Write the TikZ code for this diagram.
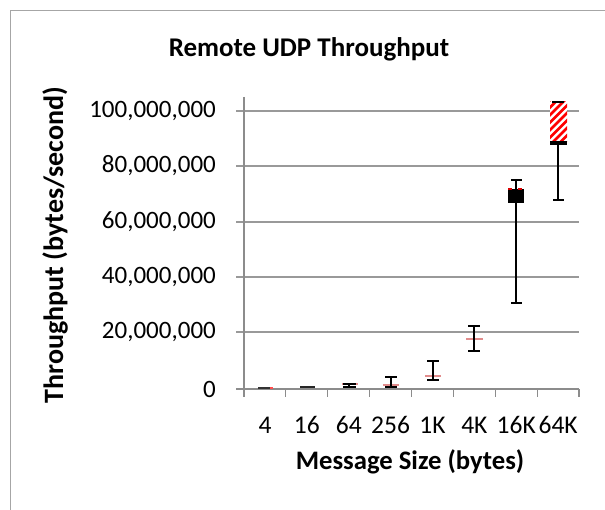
\documentclass[tikz,border=0pt]{standalone}
\usepackage{fontspec}
\setmainfont{Carlito}
\begin{document}
\begin{tikzpicture}[x=1pt,y=-1pt,
  frameline/.style={draw=black!35,line width=1.5pt},
  gridline/.style={draw=black!40,line width=1.1pt},
  axisline/.style={draw=black!45,line width=1.1pt},
  whisker/.style={draw=black,line width=1.4pt},
  midline/.style={draw={rgb,255:red,225;green,140;blue,140},line width=1.3pt},
  ticklabel/.style={font=\fontsize{25}{25}\selectfont,inner sep=0pt},
  catlabel/.style={font=\fontsize{25.5}{25.5}\selectfont,inner sep=0pt},
  charttitle/.style={font=\bfseries\fontsize{27}{27}\selectfont,inner sep=0pt}]
\useasboundingbox (0,0) rectangle (605,510);
\fill[white] (0,0) rectangle (605,510);

% chart area border (only the top and left edges fall inside the page)
\draw[frameline] (10.5,512) -- (10.5,10.5) -- (607,10.5);

% title
\node[charttitle,anchor=base] (title) at (309,56.5) {Remote UDP Throughput};

% horizontal gridlines and value labels
\foreach \v/\yy/\lab in {1/111/100{,}000{,}000,2/166/80{,}000{,}000,3/222/60{,}000{,}000,4/277/40{,}000{,}000,5/332/20{,}000{,}000} {
  \draw[gridline] (236,\yy) -- (579,\yy);
  \node[ticklabel,anchor=east] (ylab\v) at (216,\yy) {\lab};
}
\node[ticklabel,anchor=east] (ylab6) at (216,389) {0};

% axes
\draw[axisline] (244,97) -- (244,397);
\draw[axisline] (236,389) -- (579,389);
\foreach \i in {1,...,8} {
  \pgfmathsetmacro{\tx}{244+41.875*\i}
  \draw[axisline] (\tx,389) -- (\tx,397);
}

% category labels
\foreach \i/\lab in {0/4,1/16,2/64,3/256,4/1K,5/4K,6/16K,7/64K} {
  \pgfmathsetmacro{\cx}{265+41.875*\i}
  \node[catlabel] (xlab\i) at (\cx,425) {\lab};
}

% axis titles
\node[font=\bfseries\fontsize{28}{28}\selectfont,inner sep=0pt,rotate=90,anchor=base] (ytitle) at (63,245) {Throughput (bytes/second)};
\node[font=\bfseries\fontsize{26.7}{26.7}\selectfont,inner sep=0pt,anchor=base] (xtitle) at (410,469) {Message Size (bytes)};

% 4 bytes
\draw[draw=black!80,line width=1.3pt] (258,388) -- (270,388);
\draw[draw=red!70,line width=1.3pt] (270,388) -- (273,388);
% 16 bytes
\draw[draw=black!85,line width=1.4pt] (300,387) -- (315,387);
% 64 bytes
\draw[midline] (342,384) -- (358,384);
\draw[whisker] (349,384) -- (349,387) (343,384) -- (356,384) (343,387) -- (356,387);
% 256 bytes
\draw[midline] (383,385) -- (399,385);
\draw[whisker] (391,377) -- (391,387) (385,377) -- (397,377) (385,387) -- (397,387);
% 1K
\draw[midline] (425,376) -- (441,376);
\draw[whisker] (433,361) -- (433,380) (427,361) -- (439,361) (427,380) -- (439,380);
% 4K
\draw[midline] (466,339) -- (483,339);
\draw[whisker] (474,326) -- (474,351) (468,326) -- (480,326) (468,351) -- (480,351);

% 16K
\draw[whisker] (516,180) -- (516,303) (511,180) -- (522,180) (511,303) -- (522,303);
\fill[black] (508,189) rectangle (524,203);
\draw[red!85!black,line width=1.4pt] (508,189) -- (512,189) (518,189) -- (522,189);

% 64K
\draw[whisker] (558,145) -- (558,200) (553,200) -- (564,200);
\begin{scope}
  \clip (550,102) rectangle (567,142);
  \fill[white] (550,102) rectangle (567,142);
  \foreach \k in {0,...,9} {
    \draw[red,line width=2.6pt] (548,{102+7.5*\k}) -- (569,{102+7.5*\k-21});
  }
\end{scope}
\fill[black] (550,141.5) rectangle (567,145);
\draw[whisker] (552,102) -- (564,102);
\end{tikzpicture}
\end{document}
